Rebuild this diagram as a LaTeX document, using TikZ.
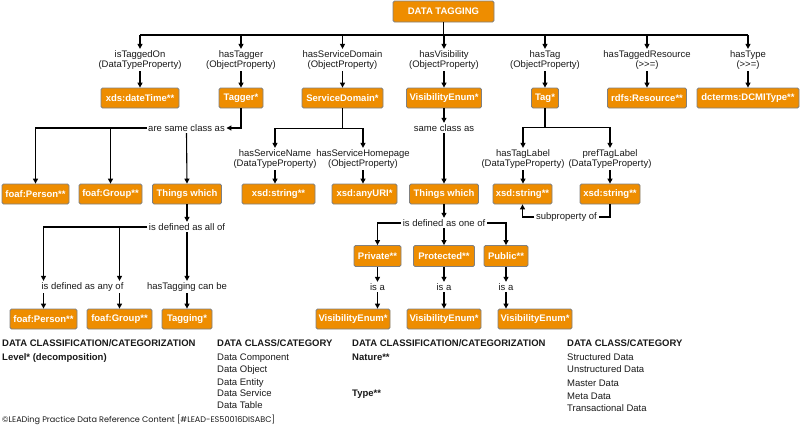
\documentclass[tikz,border=0pt]{standalone}
\usepackage{fontspec}
\setmainfont{Liberation Sans}
\newfontfamily\footfont{Poppins}
\usetikzlibrary{arrows.meta}
\definecolor{boxfill}{RGB}{238,141,0}
\definecolor{boxline}{RGB}{128,128,128}
\definecolor{txt}{RGB}{25,25,25}
\begin{document}
\begin{tikzpicture}[x=1pt,y=-1pt,
 box/.style={fill=boxfill,draw=boxline,line width=0.8pt,rounded corners=1.5pt,text=white,
   font=\fontsize{9.5}{11}\selectfont\bfseries,minimum height=20pt,inner xsep=2pt,inner ysep=0pt},
 lbl/.style={font=\fontsize{9.5}{10}\selectfont,text=txt,align=center,inner sep=1.5pt},
 conn/.style={line width=1.1pt,black},
 arr/.style={conn,-{Triangle[length=5pt,width=5pt]}},
 heading/.style={anchor=base west,font=\fontsize{9.5}{11}\selectfont\bfseries,inner sep=0pt,text=txt},
 item/.style={anchor=base west,font=\fontsize{9.5}{11}\selectfont,inner sep=0pt,text=txt},
]
\useasboundingbox (0,0) rectangle (800,426);

% root
\node[box,minimum height=21pt,minimum width=101pt] (root) at (443.5,11.5) {DATA TAGGING};
\coordinate (bus) at (0,35);

% property labels
\node[lbl] (p1) at (140,60) {isTaggedOn\\(DataTypeProperty)};
\node[lbl] (p2) at (241,60) {hasTagger\\(ObjectProperty)};
\node[lbl] (p3) at (342.5,60) {hasServiceDomain\\(ObjectProperty)};
\node[lbl] (p4) at (444,60) {hasVisibility\\(ObjectProperty)};
\node[lbl] (p5) at (545,60) {hasTag\\(ObjectProperty)};
\node[lbl] (p6) at (647,60) {hasTaggedResource\\(>\kern0pt>\kern0pt=)};
\node[lbl] (p7) at (748,60) {hasType\\(>\kern0pt>\kern0pt=)};

% row 1 boxes
\node[box,minimum width=78pt] (dt) at (140,98) {xds:dateTime**};
\node[box,minimum width=44pt] (tagger) at (241,98) {Tagger*};
\node[box,minimum width=81pt] (sd) at (342.5,98) {ServiceDomain*};
\node[box,minimum width=75pt] (vis) at (444,98) {VisibilityEnum*};
\node[box,minimum width=27pt] (tag) at (545,98) {Tag*};
\node[box,minimum width=79pt] (rdfs) at (647,98) {rdfs:Resource**};
\node[box,minimum width=102pt] (dcmi) at (748,98) {dcterms:DCMIType**};

\draw[conn] (root.south) -- (root.south |- bus);
\draw[conn] (p1.north |- bus) -- (p7.north |- bus);
\foreach \p/\b in {p1/dt,p2/tagger,p3/sd,p4/vis,p5/tag,p6/rdfs,p7/dcmi}{
  \draw[arr] (\p.north |- bus) -- (\p.north);
  \draw[arr] (\p.south) -- (\b.north);
}

% row 2 boxes
\node[box,minimum width=67pt] (fp1) at (35.5,194) {foaf:Person**};
\node[box,minimum width=63pt] (fg1) at (110.5,194) {foaf:Group**};
\node[box,minimum width=69pt] (tw1) at (187,194) {Things which};
\node[box,minimum width=73pt] (xs1) at (278.5,194) {xsd:string**};
\node[box,minimum width=65pt] (uri) at (364.5,194) {xsd:anyURI*};
\node[box,minimum width=69pt] (tw2) at (444,194) {Things which};
\node[box,minimum width=59pt] (xs2) at (522.5,194) {xsd:string**};
\node[box,minimum width=60pt] (xs3) at (610,194) {xsd:string**};

% tagger branch
\node[lbl] (asc) at (186.5,128) {are same class as};
\draw[arr] (tagger.south) |- (asc.east);
\draw[arr] (asc.west) -| (fp1.north);
\draw[arr] (asc.west -| fg1.north) -- (fg1.north);
\draw[arr] (asc.south) -- (tw1.north);

% service domain branch
\node[lbl] (sn) at (275,159) {hasServiceName\\(DataTypeProperty)};
\node[lbl] (sh) at (363,159) {hasServiceHomepage\\(ObjectProperty)};
\path (sd.south) ++(0,20) coordinate (sdj);
\draw[conn] (sd.south) -- (sdj);
\draw[arr] (sdj) -| (sn.north);
\draw[arr] (sdj) -| (sh.north);
\draw[arr] (sn.south) -- (sn.south |- xs1.north);
\draw[arr] (sh.south) -- (sh.south |- uri.north);

% visibility branch
\node[lbl] (sca) at (444,128) {same class as};
\draw[arr] (vis.south) -- (sca.north);
\draw[arr] (sca.south) -- (tw2.north);

% tag branch
\node[lbl] (tl) at (523,159) {hasTagLabel\\(DataTypeProperty)};
\node[lbl] (pl) at (610,159) {prefTagLabel\\(DataTypeProperty)};
\path (tag.south) ++(0,19) coordinate (tgj);
\draw[conn] (tag.south) -- (tgj);
\draw[arr] (tgj) -| (tl.north);
\draw[arr] (tgj) -| (pl.north);
\draw[arr] (tl.south) -- (tl.south |- xs2.north);
\draw[arr] (pl.south) -- (pl.south |- xs3.north);
\node[lbl] (sub) at (566.5,217) {subproperty of};
\draw[conn] (xs3.south) |- (sub.east);
\draw[arr] (sub.west) -| (xs2.south);

% things which (left) decomposition
\node[box,minimum width=67pt] (fp2) at (43.5,319) {foaf:Person**};
\node[box,minimum width=65pt] (fg2) at (119.5,319) {foaf:Group**};
\node[box,minimum width=50pt] (tagging) at (187,319) {Tagging*};
\node[lbl] (all) at (187,227) {is defined as all of};
\node[lbl] (any) at (82.5,287) {is defined as any of};
\node[lbl] (can) at (187,287) {hasTagging can be};
\draw[arr] (tw1.south) -- (all.north);
\draw[arr] (all.west) -| (fp2.north |- any.north);
\draw[arr] (all.west -| fg2.north) -- (fg2.north |- any.north);
\draw[arr] (all.south) -- (can.north);
\draw[arr] (any.south -| fp2.north) -- (fp2.north);
\draw[arr] (any.south -| fg2.north) -- (fg2.north);
\draw[arr] (can.south) -- (tagging.north);

% things which (visibility) decomposition
\node[box,minimum width=47pt,minimum height=21pt] (priv) at (377.5,256) {Private**};
\node[box,minimum width=61pt,minimum height=21pt] (prot) at (444,256) {Protected**};
\node[box,minimum width=44pt,minimum height=21pt] (pub) at (506,256) {Public**};
\node[lbl] (one) at (444,223) {is defined as one of};
\draw[arr] (tw2.south) -- (one.north);
\draw[arr] (one.west) -| (priv.north);
\draw[arr] (one.south) -- (prot.north);
\draw[arr] (one.east) -| (pub.north);

\node[box,minimum width=74pt] (ve1) at (353,319) {VisibilityEnum*};
\node[box,minimum width=74pt] (ve2) at (444,319) {VisibilityEnum*};
\node[box,minimum width=74pt] (ve3) at (535,319) {VisibilityEnum*};
\node[lbl] (isa1) at (377.5,287) {is a};
\node[lbl] (isa2) at (444,287) {is a};
\node[lbl] (isa3) at (506,287) {is a};
\foreach \s/\l/\v in {priv/isa1/ve1,prot/isa2/ve2,pub/isa3/ve3}{
  \draw[arr] (\s.south) -- (\l.north);
  \draw[arr] (\l.south) -- (\l.south |- \v.north);
}

% bottom texts
\node[heading] (h1) at (2,346.5) {DATA CLASSIFICATION/CATEGORIZATION};
\node[heading] (h1a) at (2,360.5) {Level* (decomposition)};
\node[heading] (h2) at (217,346.5) {DATA CLASS/CATEGORY};
\node[item] (i21) at (217,360.5) {Data Component};
\node[item] (i22) at (217,372.8) {Data Object};
\node[item] (i23) at (217,385.2) {Data Entity};
\node[item] (i24) at (217,396.5) {Data Service};
\node[item] (i25) at (217,408.5) {Data Table};
\node[heading] (h3) at (352,346.5) {DATA CLASSIFICATION/CATEGORIZATION};
\node[heading] (h3a) at (352,360.5) {Nature**};
\node[heading] (h3b) at (352,396.5) {Type**};
\node[heading] (h4) at (567,346.5) {DATA CLASS/CATEGORY};
\node[item] (i41) at (567,360.2) {Structured Data};
\node[item] (i42) at (567,372.8) {Unstructured Data};
\node[item] (i43) at (567,386.8) {Master Data};
\node[item] (i44) at (567,399.5) {Meta Data};
\node[item] (i45) at (567,411.5) {Transactional Data};

\node[anchor=base west,inner sep=0pt,text=txt,font=\footfont\fontsize{8.1}{9}\selectfont] (foot) at (2,422.5) {©LEADing Practice Data Reference Content [\#LEAD-ES50016DISABC]};
\end{tikzpicture}
\end{document}
